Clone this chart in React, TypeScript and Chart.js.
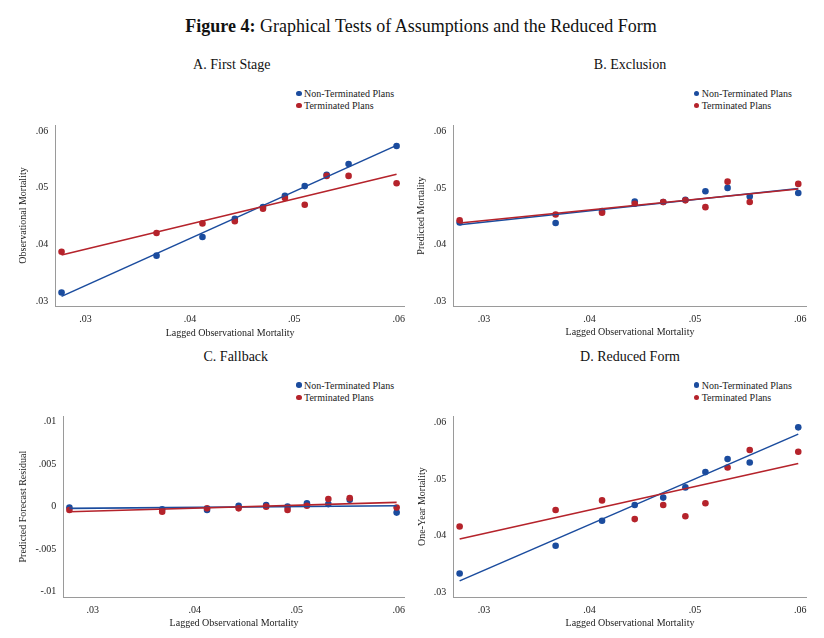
import React, { useEffect, useRef } from 'react';
import { Chart, registerables } from 'chart.js';

Chart.register(...registerables);

// ---------- data ----------
const xBins = [0.0277, 0.0368, 0.0412, 0.0443, 0.047, 0.0491, 0.051, 0.0531, 0.0552, 0.0598];
const fitX = [0.0277, 0.0598];

const seriesNames = ['Non-Terminated Plans', 'Terminated Plans'];

const firstStageNonTerm = [0.0315, 0.038, 0.0413, 0.0445, 0.0466, 0.0486, 0.0503, 0.0523, 0.0542, 0.0574];
const firstStageTerm = [0.0387, 0.042, 0.0437, 0.0441, 0.0463, 0.0482, 0.047, 0.0521, 0.0521, 0.0508];
const firstStageFitNonTerm = [0.0308, 0.0575];
const firstStageFitTerm = [0.0381, 0.0524];

const exclusionNonTerm = [0.0439, 0.0438, 0.0459, 0.0476, 0.0475, 0.0479, 0.0494, 0.05, 0.0485, 0.0491];
const exclusionTerm = [0.0443, 0.0453, 0.0456, 0.0472, 0.0475, 0.0478, 0.0466, 0.0511, 0.0475, 0.0507];
const exclusionFitNonTerm = [0.0435, 0.0499];
const exclusionFitTerm = [0.0438, 0.0498];

const fallbackNonTerm = [-0.0001, -0.0003, -0.0004, 0.0001, 0.0002, 0.0, 0.0004, 0.0003, 0.0008, -0.0007];
const fallbackTerm = [-0.0004, -0.0006, -0.0002, -0.0002, 0.0, -0.0004, 0.0001, 0.0009, 0.001, -0.0001];
const fallbackFitNonTerm = [-0.0002, 0.0001];
const fallbackFitTerm = [-0.0006, 0.0005];

const reducedNonTerm = [0.0333, 0.0382, 0.0426, 0.0454, 0.0467, 0.0485, 0.0512, 0.0535, 0.0529, 0.0591];
const reducedTerm = [0.0416, 0.0445, 0.0462, 0.0429, 0.0454, 0.0434, 0.0457, 0.052, 0.0551, 0.0548];
const reducedFitNonTerm = [0.032, 0.0579];
const reducedFitTerm = [0.0394, 0.0527];

const xTickValues = [0.03, 0.04, 0.05, 0.06];
const xTickLabels = ['.03', '.04', '.05', '.06'];
const mortTickValues = [0.03, 0.04, 0.05, 0.06];
const mortTickLabels = ['.03', '.04', '.05', '.06'];
const residTickValues = [-0.01, -0.005, 0, 0.005, 0.01];
const residTickLabels = ['-.01', '-.005', '0', '.005', '.01'];

const xRange = [0.0271, 0.0606];
const mortRange = [0.0291, 0.0611];
const residRange = [-0.01064, 0.01064];

const xTitle = 'Lagged Observational Mortality';
const figureTitleBold = 'Figure 4:';
const figureTitleRest = ' Graphical Tests of Assumptions and the Reduced Form';

// ---------- styles ----------
const FONT = "'Liberation Serif', 'Times New Roman', Times, serif";
const BLUE = '#1b4c9e';
const RED = '#b5232b';
const AXIS = '#9a9a9a';
const TEXT = '#222222';

type Box = { l: number; t: number; r: number; b: number };
type Layout = {
  area: Box;
  canvas: { x: number; y: number; w: number; h: number };
  yTitleX: number;
  xTitleY: number;
};

type PanelProps = {
  layout: Layout;
  nonTerm: number[];
  term: number[];
  fitNonTerm: number[];
  fitTerm: number[];
  yTicks: number[];
  yLabels: string[];
  yRange: number[];
  yTitle: string;
};

const pts = (xs: number[], ys: number[]) => xs.map((x, i) => ({ x, y: ys[i] }));

function Panel(props: PanelProps) {
  const ref = useRef<HTMLCanvasElement>(null);
  const { layout } = props;
  const { area, canvas } = layout;
  useEffect(() => {
    if (!ref.current) return;
    const half = 6; // 10px font line height / 2
    const pad = 4;
    const pl = layout.yTitleX - canvas.x - half - pad;
    const wy = area.l - canvas.x - pl;
    const pt = area.t - canvas.y;
    const pr = canvas.x + canvas.w - area.r;
    const hx = layout.xTitleY + half + pad - area.b;
    const pb = canvas.y + canvas.h - (area.b + hx);
    const chart = new Chart(ref.current, {
      type: 'scatter',
      data: {
        datasets: [
          {
            type: 'line',
            label: seriesNames[1] + ' fit',
            data: pts(fitX, props.fitTerm),
            borderColor: RED,
            borderWidth: 1.6,
            pointRadius: 0,
            showLine: true,
            fill: false,
          },
          {
            type: 'line',
            label: seriesNames[0] + ' fit',
            data: pts(fitX, props.fitNonTerm),
            borderColor: BLUE,
            borderWidth: 1.6,
            pointRadius: 0,
            showLine: true,
            fill: false,
          },
          {
            label: seriesNames[1],
            data: pts(xBins, props.term),
            backgroundColor: RED,
            borderColor: RED,
            borderWidth: 0,
            pointRadius: 3.3,
          },
          {
            label: seriesNames[0],
            data: pts(xBins, props.nonTerm),
            backgroundColor: BLUE,
            borderColor: BLUE,
            borderWidth: 0,
            pointRadius: 3.3,
          },
        ] as any,
      },
      options: {
        responsive: false,
        animation: false,
        events: [],
        layout: { padding: { left: pl, right: pr, top: pt, bottom: pb } },
        plugins: { legend: { display: false }, tooltip: { enabled: false } },
        scales: {
          x: {
            type: 'linear',
            min: xRange[0],
            max: xRange[1],
            grid: { display: false, drawTicks: false },
            border: { display: true, color: AXIS, width: 1 },
            afterBuildTicks: (s: any) => {
              s.ticks = xTickValues.map((v) => ({ value: v }));
            },
            afterFit: (s: any) => {
              s.height = hx;
            },
            ticks: {
              padding: 7,
              maxRotation: 0,
              autoSkip: false,
              color: TEXT,
              font: { family: FONT, size: 10 },
              callback: (v: any) => {
                const i = xTickValues.findIndex((t) => Math.abs(t - Number(v)) < 1e-9);
                return i >= 0 ? xTickLabels[i] : '';
              },
            },
            title: {
              display: true,
              text: xTitle,
              color: TEXT,
              font: { family: FONT, size: 10 },
              padding: { top: pad, bottom: pad },
            },
          },
          y: {
            type: 'linear',
            min: props.yRange[0],
            max: props.yRange[1],
            grid: { display: false, drawTicks: false },
            border: { display: true, color: AXIS, width: 1 },
            afterBuildTicks: (s: any) => {
              s.ticks = props.yTicks.map((v) => ({ value: v }));
            },
            afterFit: (s: any) => {
              s.width = wy;
            },
            ticks: {
              padding: 7,
              autoSkip: false,
              color: TEXT,
              font: { family: FONT, size: 10 },
              callback: (v: any) => {
                const i = props.yTicks.findIndex((t) => Math.abs(t - Number(v)) < 1e-9);
                return i >= 0 ? props.yLabels[i] : '';
              },
            },
            title: {
              display: true,
              text: props.yTitle,
              color: TEXT,
              font: { family: FONT, size: 10 },
              padding: { top: pad, bottom: pad },
            },
          },
        },
      },
    });
    return () => chart.destroy();
  }, []);
  return (
    <canvas
      ref={ref}
      width={canvas.w}
      height={canvas.h}
      style={{ position: 'absolute', left: canvas.x, top: canvas.y, width: canvas.w, height: canvas.h }}
    />
  );
}

function Legend({ x, y }: { x: number; y: number }) {
  const row = (name: string, color: string, dy: number) => (
    <div
      key={name}
      style={{ position: 'absolute', left: x - 3, top: y + dy - 7, height: 14, display: 'flex', alignItems: 'center', whiteSpace: 'nowrap' }}
    >
      <span style={{ width: 5.5, height: 5.5, borderRadius: '50%', background: color, display: 'inline-block' }} />
      <span style={{ marginLeft: 2.5, font: `10px ${FONT}`, color: TEXT }}>{name}</span>
    </div>
  );
  return (
    <>
      {row(seriesNames[0], BLUE, 0)}
      {row(seriesNames[1], RED, 12.4)}
    </>
  );
}

function Label({ x, y, size, children }: { x: number; y: number; size: number; children: React.ReactNode }) {
  return (
    <div
      style={{
        position: 'absolute',
        left: x,
        top: y,
        transform: 'translate(-50%, -50%)',
        whiteSpace: 'nowrap',
        font: `${size}px ${FONT}`,
        color: '#111',
        lineHeight: 1.2,
      }}
    >
      {children}
    </div>
  );
}

const layoutA: Layout = { area: { l: 55.3, t: 120, r: 408.3, b: 306 }, canvas: { x: 0, y: 112, w: 412, h: 236 }, yTitleX: 23.3, xTitleY: 333 };
const layoutB: Layout = { area: { l: 453.3, t: 120, r: 806.7, b: 306.3 }, canvas: { x: 405, y: 112, w: 419, h: 236 }, yTitleX: 421.7, xTitleY: 332.8 };
const layoutC: Layout = { area: { l: 63.3, t: 411.7, r: 408.3, b: 597.3 }, canvas: { x: 0, y: 403, w: 412, h: 235 }, yTitleX: 23.3, xTitleY: 623.5 };
const layoutD: Layout = { area: { l: 453.3, t: 411.7, r: 806.7, b: 597.3 }, canvas: { x: 405, y: 403, w: 419, h: 235 }, yTitleX: 422.3, xTitleY: 623.5 };

export default function App() {
  return (
    <div style={{ position: 'absolute', left: 0, top: 0, width: 824, height: 638, background: '#fff', overflow: 'hidden' }}>
      <Label x={421} y={26.5} size={18}>
        <b>{figureTitleBold}</b>
        {figureTitleRest}
      </Label>
      <Label x={231.8} y={65} size={14}>A. First Stage</Label>
      <Label x={630} y={65} size={14}>B. Exclusion</Label>
      <Label x={235.8} y={356.5} size={14}>C. Fallback</Label>
      <Label x={630} y={356.5} size={14}>D. Reduced Form</Label>
      <Legend x={299} y={93.3} />
      <Legend x={696.7} y={93.3} />
      <Legend x={299} y={385} />
      <Legend x={696.7} y={385} />
      <Panel
        layout={layoutA}
        nonTerm={firstStageNonTerm}
        term={firstStageTerm}
        fitNonTerm={firstStageFitNonTerm}
        fitTerm={firstStageFitTerm}
        yTicks={mortTickValues}
        yLabels={mortTickLabels}
        yRange={mortRange}
        yTitle="Observational Mortality"
      />
      <Panel
        layout={layoutB}
        nonTerm={exclusionNonTerm}
        term={exclusionTerm}
        fitNonTerm={exclusionFitNonTerm}
        fitTerm={exclusionFitTerm}
        yTicks={mortTickValues}
        yLabels={mortTickLabels}
        yRange={mortRange}
        yTitle="Predicted Mortality"
      />
      <Panel
        layout={layoutC}
        nonTerm={fallbackNonTerm}
        term={fallbackTerm}
        fitNonTerm={fallbackFitNonTerm}
        fitTerm={fallbackFitTerm}
        yTicks={residTickValues}
        yLabels={residTickLabels}
        yRange={residRange}
        yTitle="Predicted Forecast Residual"
      />
      <Panel
        layout={layoutD}
        nonTerm={reducedNonTerm}
        term={reducedTerm}
        fitNonTerm={reducedFitNonTerm}
        fitTerm={reducedFitTerm}
        yTicks={mortTickValues}
        yLabels={mortTickLabels}
        yRange={mortRange}
        yTitle="One-Year Mortality"
      />
    </div>
  );
}
